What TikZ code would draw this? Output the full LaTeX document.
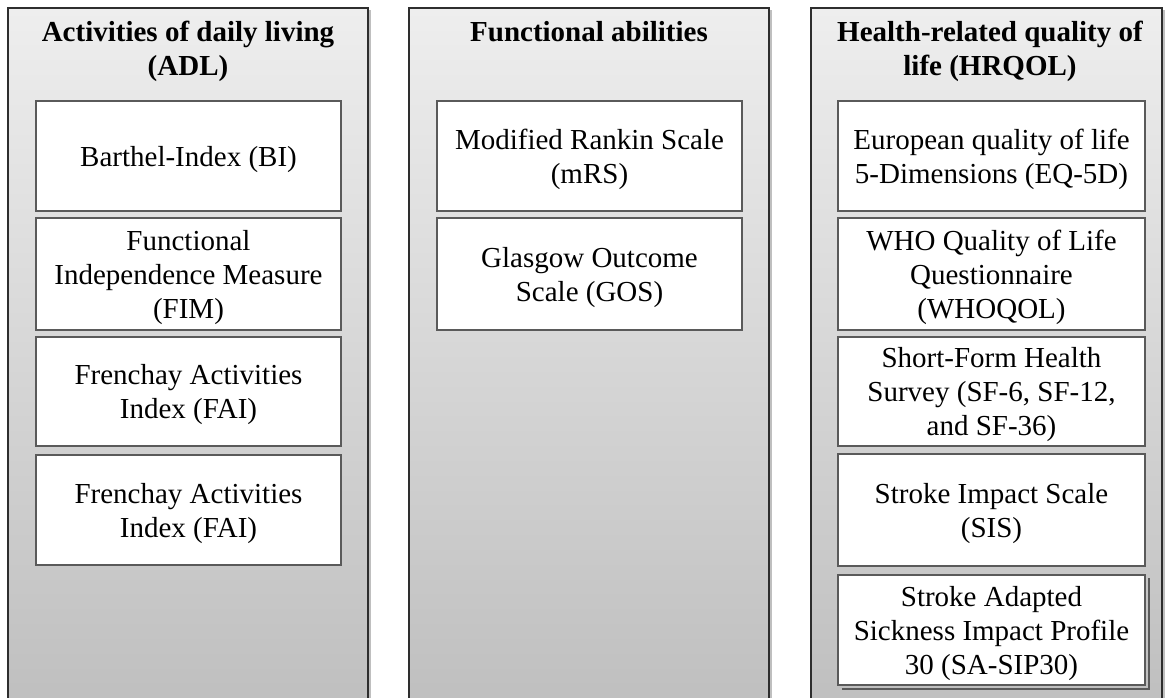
\documentclass[tikz,border=0pt]{standalone}
\usepackage{fontspec}
\setmainfont{Liberation Serif}
\definecolor{colTop}{HTML}{EEEEEE}
\definecolor{colBot}{HTML}{BEBEBE}
\definecolor{colEdge}{HTML}{2E2E2E}
\definecolor{itemEdge}{HTML}{5A5A5A}
\begin{document}
\begin{tikzpicture}[x=1pt,y=-1pt,
  column/.style={draw=colEdge, line width=1.3pt, top color=colTop, bottom color=colBot},
  item/.style={draw=itemEdge, line width=2.6pt, fill=white, inner sep=0pt},
  txt/.style={align=center, inner sep=0pt, yshift=-3.5pt,
    font=\fontsize{29}{34}\selectfont},
  head/.style={align=center, anchor=north, inner sep=0pt,
    font=\fontsize{29}{34}\selectfont\bfseries}]
\useasboundingbox (0,0) rectangle (1165,697);
\fill[white] (0,0) rectangle (1165,697);

% column panels (they run past the lower edge)
\foreach \l/\r in {8/368, 409/769, 811/1162}{
  \fill[black!25] (\r,10) rectangle (\r+2.5,720);
  \draw[column] (\l,8) rectangle (\r,720);
}

% headings
\node[head] (hADL)  at (188,21) {Activities of daily living\\(ADL)};
\node[head] (hFA)   at (589,21) {Functional abilities};
\node[head] (hHRQ)  at (990,21) {Health-related quality of\\life (HRQOL)};

% activities of daily living
\node[item, minimum width=305, minimum height=110] (bi)   at (188.5,156) {};
\node[item, minimum width=305, minimum height=112] (fim)  at (188.5,274) {};
\node[item, minimum width=305, minimum height=109] (fai1) at (188.5,391.5) {};
\node[item, minimum width=305, minimum height=110] (fai2) at (188.5,510) {};
\node[txt] (tbi)   at (bi)   {Barthel-Index (BI)};
\node[txt] (tfim)  at (fim)  {Functional\\Independence Measure\\(FIM)};
\node[txt] (tfai1) at (fai1) {Frenchay Activities\\Index (FAI)};
\node[txt] (tfai2) at (fai2) {Frenchay Activities\\Index (FAI)};

% functional abilities
\node[item, minimum width=305, minimum height=110] (mrs) at (589.5,156) {};
\node[item, minimum width=305, minimum height=112] (gos) at (589.5,274) {};
\node[txt] (tmrs) at (mrs) {Modified Rankin Scale\\(mRS)};
\node[txt] (tgos) at (gos) {Glasgow Outcome\\Scale (GOS)};

% health-related quality of life
\node[item, minimum width=307, minimum height=110] (eq)  at (991.5,156) {};
\node[item, minimum width=307, minimum height=112] (who) at (991.5,274) {};
\node[item, minimum width=307, minimum height=109] (sf)  at (991.5,391.5) {};
\node[item, minimum width=307, minimum height=112] (sis) at (991.5,510) {};
\draw[itemEdge, line width=2pt] (1148.5,578) -- (1148.5,688.5) -- (842,688.5);
\node[item, minimum width=307, minimum height=110] (sip) at (991.5,630) {};
\node[txt] (teq)  at (eq)  {European quality of life\\5-Dimensions (EQ-5D)};
\node[txt] (twho) at (who) {WHO Quality of Life\\Questionnaire\\(WHOQOL)};
\node[txt] (tsf)  at (sf)  {Short-Form Health\\Survey (SF-6, SF-12,\\and SF-36)};
\node[txt] (tsis) at (sis) {Stroke Impact Scale\\(SIS)};
\node[txt] (tsip) at (sip) {Stroke Adapted\\Sickness Impact Profile\\30 (SA-SIP30)};
\end{tikzpicture}
\end{document}
